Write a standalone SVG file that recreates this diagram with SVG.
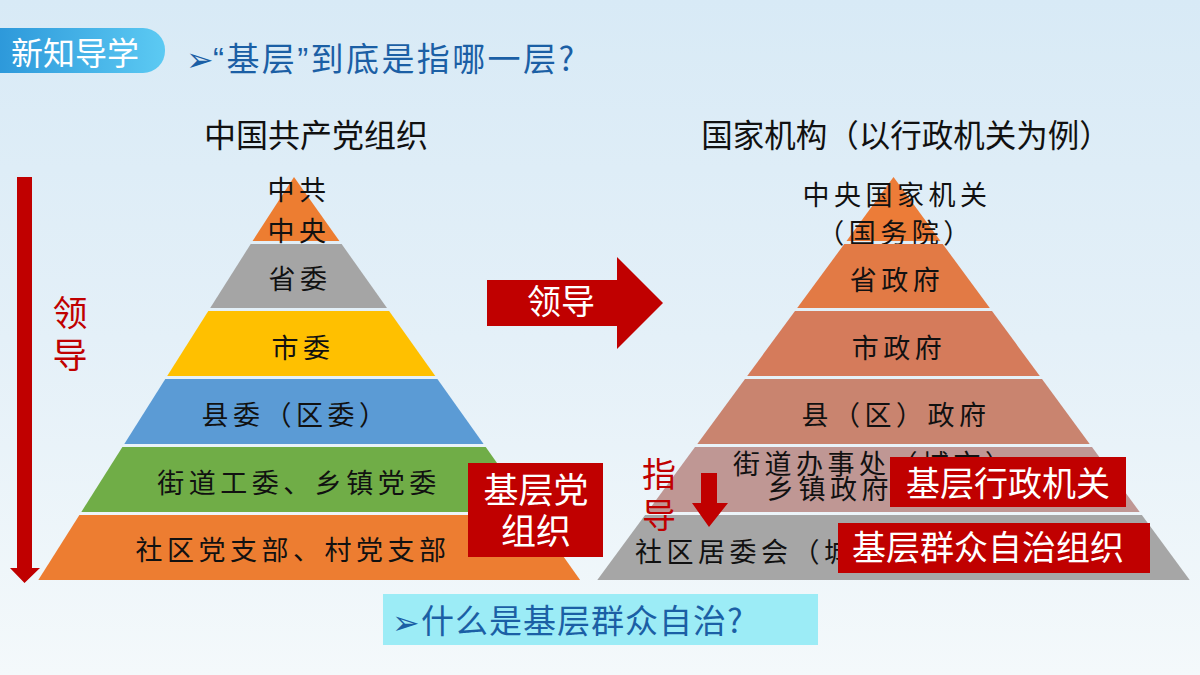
<svg xmlns="http://www.w3.org/2000/svg" width="1200" height="675" viewBox="0 0 1200 675">
<defs>
<linearGradient id="bg" x1="0" y1="0" x2="0" y2="1">
<stop offset="0" stop-color="#D8EAF6"/>
<stop offset="0.5" stop-color="#E4F0F8"/>
<stop offset="1" stop-color="#F4F9FB"/>
</linearGradient>
<linearGradient id="badge" x1="0" y1="0" x2="1" y2="0">
<stop offset="0" stop-color="#2590D6"/>
<stop offset="1" stop-color="#5CCAF3"/>
</linearGradient>
<style>
.kai{font-family:"Noto Sans CJK SC","Noto Sans CJK TC",sans-serif;font-size:27px;fill:#111;letter-spacing:4.5px;text-anchor:middle}
.title{font-family:"Noto Sans CJK SC",sans-serif;font-size:32px;fill:#111;text-anchor:middle}
.blue{font-family:"Noto Sans CJK SC",sans-serif;font-size:33px;fill:#1B5FA5;letter-spacing:1px}
.q{font-family:"Liberation Sans",sans-serif}
.wl{font-family:"Noto Sans CJK SC",sans-serif;font-size:34px;fill:#fff;text-anchor:middle}
.rl{font-family:"Noto Sans CJK SC",sans-serif;font-size:34px;fill:#C00000;text-anchor:middle}
.red{fill:#C00000}
.bul{font-family:"DejaVu Sans",sans-serif;font-size:33px;fill:#1B5FA5}
</style>
</defs>
<rect width="1200" height="675" fill="url(#bg)"/>

<g id="header">
<rect x="-30" y="28" width="195" height="45" rx="22" fill="url(#badge)"/>
<text x="11" y="65" font-family="Noto Sans CJK SC, sans-serif" font-size="32" fill="#fff">新知导学</text>
<text class="bul" x="186" y="71">➢</text>
<text class="blue" x="213" y="71" style="letter-spacing:2.4px"><tspan class="q">“</tspan>基层<tspan class="q">”</tspan>到底是指哪一层?</text>
</g>

<g id="title-left"><text class="title" x="316" y="147">中国共产党组织</text></g>
<g id="title-right"><text class="title" x="906" y="147" style="font-size:31.5px">国家机构（以行政机关为例）</text></g>

<g id="party-pyramid">
<g id="p1"><polygon points="294,177 339.4,241 252.6,241" fill="#ED7D31"/><text class="kai" x="299" y="200">中共</text><text class="kai" x="299" y="241">中央</text></g>
<g id="p2"><polygon points="250.7,244 341.6,244 387,308 210.2,308" fill="#A5A5A5"/><text class="kai" x="300" y="289">省委</text></g>
<g id="p3"><polygon points="208.3,311 389.1,311 435.3,376 167.2,376" fill="#FFC000"/><text class="kai" x="303" y="358">市委</text></g>
<g id="p4"><polygon points="165.3,379 437.4,379 483.6,444 124.3,444" fill="#5B9BD5"/><text class="kai" x="296" y="425">县委（区委）</text></g>
<g id="p5"><polygon points="122.4,447 485.7,447 531.9,512 81.3,512" fill="#70AD47"/><text class="kai" x="299" y="493">街道工委、乡镇党委</text></g>
<g id="p6"><polygon points="79.4,515 534,515 580.1,580 38.3,580" fill="#ED7D31"/><text class="kai" x="293" y="560">社区党支部、村党支部</text></g>
</g>

<g id="state-pyramid">
<g id="s1"><polygon points="893.5,177 940.5,241 846.5,241" fill="#EC7C38"/><text class="kai" x="897" y="205">中央国家机关</text><text class="kai" x="896" y="243">（国务院）</text></g>
<g id="s2"><polygon points="844.3,244 942.7,244 989.8,308 797.2,308" fill="#E27A45"/><text class="kai" x="897" y="290">省政府</text></g>
<g id="s3"><polygon points="795,311 992,311 1039.8,376 747.2,376" fill="#D57B5B"/><text class="kai" x="899" y="358">市政府</text></g>
<g id="s4"><polygon points="745,379 1042,379 1089.7,444 697.3,444" fill="#C9846F"/><text class="kai" x="896" y="425">县（区）政府</text></g>
<g id="s5"><polygon points="695,447 1092,447 1139.7,512 647.3,512" fill="#BF9794"/><text class="kai" x="733" y="474" style="text-anchor:start">街道办事处（城市）</text><text class="kai" x="767" y="499" style="text-anchor:start">乡镇政府（农村）</text></g>
<g id="s6"><polygon points="645.1,515 1141.9,515 1189.7,580 597.3,580" fill="#A6A6A6"/><text class="kai" x="635" y="562" style="text-anchor:start">社区居委会（城市）、村委会（农村）</text></g>
</g>

<g id="connectors">
<polygon class="red" points="17,177 32,177 32,568 40,568 24.5,583 10,568 17,568"/>
<polygon class="red" points="487,280 617,280 617,257 663,303 617,349 617,326 487,326"/>
<polygon class="red" points="701,473 717,473 717,503 728,503 709,527 692,503 701,503"/>
</g>

<g id="lead-left"><text class="rl" x="70" y="326" style="font-size:35px">领</text><text class="rl" x="70" y="368" style="font-size:35px">导</text></g>
<g id="lead-arrow-label"><text class="wl" x="561" y="314">领导</text></g>
<g id="guide-label"><text class="rl" x="659" y="487">指</text><text class="rl" x="659" y="528">导</text></g>

<g id="label-party"><rect class="red" x="468" y="463" width="135" height="94"/><text class="wl" x="536" y="503" style="font-size:35px">基层党</text><text class="wl" x="536" y="544" style="font-size:35px">组织</text></g>
<g id="label-admin"><rect class="red" x="890" y="457" width="236" height="50"/><text class="wl" x="1008" y="496">基层行政机关</text></g>
<g id="label-mass"><rect class="red" x="838" y="523" width="312" height="50"/><text class="wl" x="988" y="560">基层群众自治组织</text></g>

<g id="question">
<rect x="383" y="594" width="435" height="51" fill="#9CECF6"/>
<text class="bul" x="392" y="634">➢</text>
<text class="blue" x="421" y="633">什么是基层群众自治?</text>
</g>
</svg>
